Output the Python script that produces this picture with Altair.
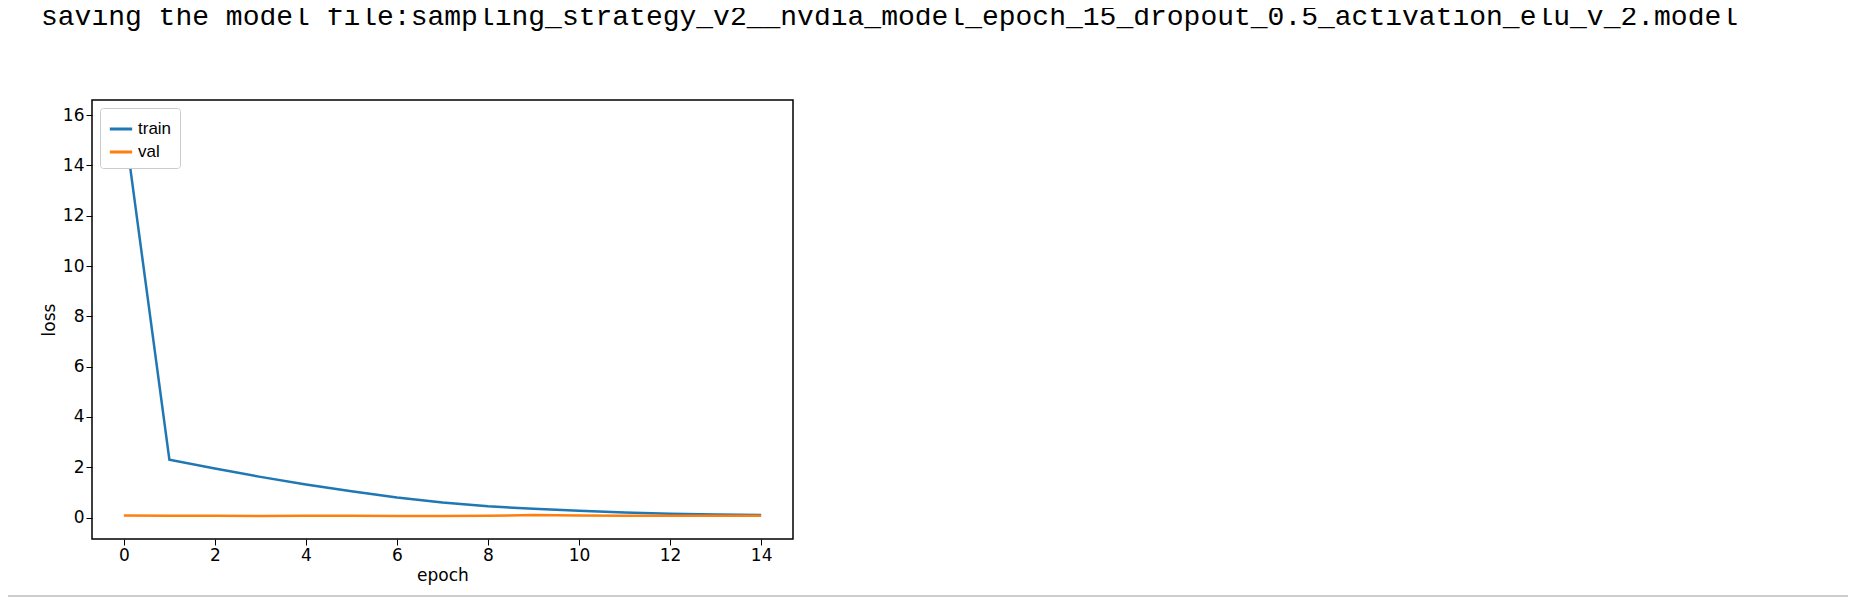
import altair as alt
import pandas as pd

epochs = list(range(15))
train_loss = [15.8, 2.3, 1.95, 1.62, 1.32, 1.05, 0.8, 0.6, 0.45, 0.35, 0.27, 0.2, 0.15, 0.12, 0.1]
val_loss = [0.08, 0.07, 0.07, 0.06, 0.07, 0.07, 0.06, 0.06, 0.07, 0.1, 0.08, 0.07, 0.07, 0.07, 0.07]
header = "saving the model file:sampling_strategy_v2__nvdia_model_epoch_15_dropout_0.5_activation_elu_v_2.model"

df = pd.DataFrame({"epoch": epochs * 2,
                   "loss": train_loss + val_loss,
                   "serie": ["train"] * 15 + ["val"] * 15})

linhas = alt.Chart(df).mark_line(strokeWidth=2.5).encode(
    x=alt.X("epoch:Q", scale=alt.Scale(domain=[-0.7, 14.7], nice=False),
            axis=alt.Axis(values=list(range(0, 15, 2)), title="epoch")),
    y=alt.Y("loss:Q", scale=alt.Scale(domain=[-0.85, 16.6], nice=False, zero=False),
            axis=alt.Axis(values=list(range(0, 17, 2)), title="loss")),
    color=alt.Color("serie:N", scale=alt.Scale(domain=["train", "val"], range=["#1f77b4", "#ff7f0e"]),
                    legend=alt.Legend(title=None, orient="top-left", offset=8,
                                      symbolType="stroke", symbolStrokeWidth=3, symbolSize=500,
                                      labelFontSize=17, strokeColor="#cccccc", padding=8,
                                      fillColor="white", cornerRadius=3))
)

cabecalho = alt.Chart(pd.DataFrame({"t": [header]})).mark_text(
    font="Liberation Mono", fontSize=28, align="left", baseline="middle", color="black"
).encode(x=alt.value(-51), y=alt.value(-83), text="t:N")

rodape = alt.Chart(pd.DataFrame({"a": [0]})).mark_rule(color="#cccccc", strokeWidth=2).encode(
    x=alt.value(-92), x2=alt.value(1800), y=alt.value(496))

chart = (linhas + cabecalho + rodape).properties(
    width=701, height=439,
    background="white",
    autosize=alt.AutoSizeParams(type="none"),
    padding={"left": 84, "top": 92, "right": 1055, "bottom": 61},
    title=alt.Title("model loss Train vs Validation", fontSize=20, fontWeight="normal",
                    font="DejaVu Sans", offset=8)
).configure_view(stroke="black", strokeWidth=1.5).configure_axis(
    domain=False, grid=False, tickColor="black", tickSize=6, labelColor="black",
    labelFontSize=17, titleFontSize=17, titleFontWeight="normal", titleColor="black",
    labelFont="DejaVu Sans", titleFont="DejaVu Sans"
)

chart.save("out.html", embed_options={"renderer": "svg", "actions": False})
